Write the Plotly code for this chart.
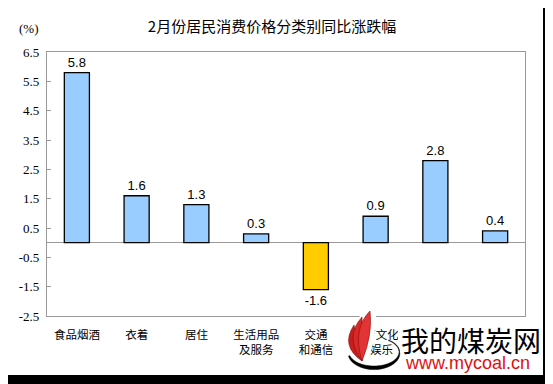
import numpy as np
import plotly.graph_objects as go

categories = ["食品烟酒", "衣着", "居住", "生活用品<br>及服务", "交通<br>和通信",
              "教育文化<br>和娱乐", "医疗保健", "其他用品<br>和服务"]
values = [5.8, 1.6, 1.3, 0.3, -1.6, 0.9, 2.8, 0.4]
tick_vals = [6.5, 5.5, 4.5, 3.5, 2.5, 1.5, 0.5, -0.5, -1.5, -2.5]
tick_text = ["6.5", "5.5", "4.5", "3.5", "2.5", "1.5", "0.5", "-0.5", "-1.5", "-2.5"]

# the page body has an 8px margin; figure placed at (8, 8)
OFF = 8
W, H = 553 - OFF, 384 - OFF
L, R, T, B = 47 - OFF, 553 - 525, 52 - OFF, 384 - 316
PW, PH = W - L - R, H - T - B

def px(x):
    return (x - OFF - L) / PW

def py(y):
    return (H - B - (y - OFF)) / PH

def pt(a, b):
    return f"{px(a):.4f},{py(b):.4f}"

colors = ["#FFCC00" if v < 0 else "#99CCFF" for v in values]
labels = [f"{v:.1f}" for v in values]

fig = go.Figure(go.Bar(
    x=categories, y=values,
    marker=dict(color=colors, line=dict(color="black", width=1.3)),
    width=0.42,
    text=labels, textposition="outside", cliponaxis=False,
    textfont=dict(family="Liberation Sans, Arial", size=13, color="black"),
))

fig.update_layout(
    width=W, height=H,
    margin=dict(l=L, r=R, t=T, b=B, autoexpand=False),
    paper_bgcolor="white", plot_bgcolor="white",
    showlegend=False,
    title=dict(text="2月份居民消费价格分类别同比涨跌幅", x=(272 - OFF) / W, xanchor="center",
               y=1 - (27 - OFF) / H, yanchor="middle", automargin=False,
               font=dict(family="Noto Sans CJK SC", size=15, color="black")),
    xaxis=dict(showline=True, mirror=True, linecolor="#999999", linewidth=1.2,
               ticks="", showgrid=False, automargin=False, ticklabelstandoff=8,
               tickfont=dict(family="Noto Sans CJK SC", size=11.5, color="black")),
    yaxis=dict(range=[-2.5, 6.5], tickvals=tick_vals, ticktext=tick_text,
               showline=True, mirror=True, linecolor="#999999", linewidth=1.2,
               ticks="inside", ticklen=4, tickcolor="#999999", automargin=False,
               showgrid=False, zeroline=True, zerolinecolor="#999999", zerolinewidth=1.2,
               tickfont=dict(family="Liberation Serif, Times New Roman", size=13, color="black"),
               ticklabelstandoff=4),
)

fig.add_annotation(text="(%)", xref="paper", yref="paper", x=px(29), y=py(29),
                   xanchor="center", yanchor="middle",
                   showarrow=False, font=dict(family="Liberation Serif", size=13, color="black"))

# black frame strips on right and bottom
fig.add_shape(type="rect", xref="paper", yref="paper", x0=px(543), x1=px(560),
              y0=py(400), y1=py(-10), fillcolor="black", line=dict(width=0), layer="above")
fig.add_shape(type="rect", xref="paper", yref="paper", x0=px(-10), x1=px(560),
              y0=py(400), y1=py(375), fillcolor="black", line=dict(width=0), layer="above")

# watermark: white backing behind text and logo
fig.add_shape(type="rect", xref="paper", yref="paper", x0=px(398), x1=px(542),
              y0=py(372), y1=py(322), fillcolor="white", line=dict(width=0), layer="above")
halo = [(351, 322), (371, 309), (376, 316), (374, 340), (368, 363), (355, 363), (345, 348)]
fig.add_shape(type="path", xref="paper", yref="paper",
              path="M " + " L ".join(pt(a, b) for a, b in halo) + " Z",
              fillcolor="white", line=dict(width=0), layer="above")

# watermark logo: swoosh
t = np.linspace(np.radians(165), np.radians(-55), 80)
cx, cy, rx, ry = 374, 352, 25, 14
outer = [(cx + (rx + 3.0 * max(0, np.sin(tt)) + 0.6) * np.cos(tt),
          cy + (ry + 3.0 * max(0, np.sin(tt)) + 0.6) * np.sin(tt)) for tt in t]
inner = [(cx + rx * np.cos(tt), cy + ry * np.sin(tt)) for tt in t[::-1]]
sw = "M " + " L ".join(pt(a, b) for a, b in outer + inner) + " Z"
fig.add_shape(type="path", xref="paper", yref="paper", path=sw,
              fillcolor="black", line=dict(color="black", width=0.5), layer="above")

# flames: (tip, outer control, inner control)
base = (362, 361)
flames = [
    ((354, 325), (340, 346), (357, 344), "#C81E1E"),
    ((362, 317), (344, 337), (363, 338), "#D92828"),
    ((370, 311), (352, 329), (373, 334), "#E23434"),
]
for tip, c1, c2, col in flames:
    d = (f"M {pt(*base)} Q {pt(*c1)} {pt(*tip)} Q {pt(*c2)} {pt(*base)} Z")
    fig.add_shape(type="path", xref="paper", yref="paper", path=d,
                  fillcolor=col, line=dict(color="#8A0C0C", width=0.6), layer="above")

fig.add_annotation(text="我的煤炭网", xref="paper", yref="paper", x=px(471), y=py(340),
                   xanchor="center", yanchor="middle", showarrow=False,
                   font=dict(family="Noto Sans CJK SC", size=28, color="black"))
fig.add_annotation(text="www.mycoal.cn", xref="paper", yref="paper", x=px(467), y=py(363),
                   xanchor="center", yanchor="middle", showarrow=False,
                   font=dict(family="Liberation Sans", size=18, color="#E01010"))

fig.write_html("out.html")
